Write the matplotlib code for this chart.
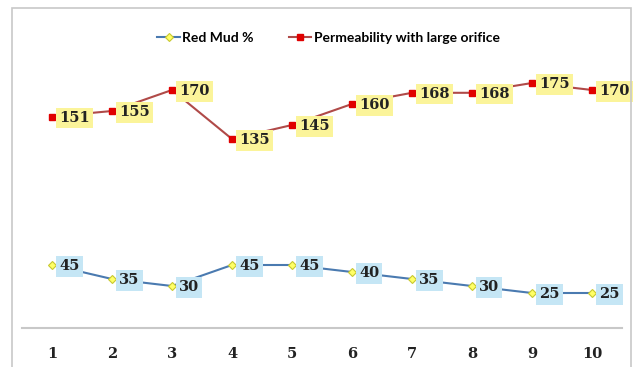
import matplotlib
matplotlib.use('Agg')
from matplotlib import pyplot as plt
from matplotlib.patches import Rectangle

samples = [1, 2, 3, 4, 5, 6, 7, 8, 9, 10]
red_mud = [45, 35, 30, 45, 45, 40, 35, 30, 25, 25]
permeability = [151, 155, 170, 135, 145, 160, 168, 168, 175, 170]

fig = plt.figure(figsize=(6.38, 3.67), dpi=100)
ax = fig.add_axes([22 / 638, 39 / 367, 600 / 638, 280 / 367])

# outer chart frame (bottom edge runs off the image)
fig.patches.append(Rectangle((12 / 638, -0.1), 619 / 638, 0.1 + 359 / 367,
                             transform=fig.transFigure, fill=False,
                             edgecolor='#c8c8c8', linewidth=1.2))

ax.plot(samples, red_mud, color='#4a7ab0', linewidth=1.5,
        marker='D', markersize=4.5, markerfacecolor='#ffff66',
        markeredgecolor='#c8c830', markeredgewidth=0.8, label='Red Mud %')
ax.plot(samples, permeability, color='#b04a48', linewidth=1.5,
        marker='s', markersize=5, markerfacecolor='#e00000',
        markeredgecolor='#e00000', label='Permeability with large orifice')

label_font = dict(fontsize=10.5, fontweight='bold', family='DejaVu Serif',
                  color='#222222')
for x, v in zip(samples, red_mud):
    ax.annotate(str(v), (x, v), xytext=(5, -1), textcoords='offset points',
                va='center', ha='left', **label_font,
                bbox=dict(boxstyle='square,pad=0.22', fc='#c5e6f5', ec='none'))
for x, v in zip(samples, permeability):
    ax.annotate(str(v), (x, v), xytext=(5, -1), textcoords='offset points',
                va='center', ha='left', **label_font,
                bbox=dict(boxstyle='square,pad=0.22', fc='#fbf49a', ec='none'))

ax.set_xlim(0.5, 10.5)
ax.set_ylim(0, 200)
ax.set_xticks(samples)
ax.set_xticklabels([str(s) for s in samples], **label_font)
ax.tick_params(axis='x', length=0, pad=14)
ax.set_yticks([])
for side in ['top', 'right', 'left']:
    ax.spines[side].set_visible(False)
ax.spines['bottom'].set_color('#c8c8c8')
ax.spines['bottom'].set_linewidth(1.5)

leg = fig.legend(loc='center', bbox_to_anchor=(0.515, 1 - 38 / 367), ncol=2,
                 frameon=False, handlelength=1.6, columnspacing=2.5,
                 handletextpad=0.2, prop={'family': 'Lato', 'weight': 'bold', 'size': 10})

plt.savefig('out.png', dpi=100, facecolor='w')
plt.close()
